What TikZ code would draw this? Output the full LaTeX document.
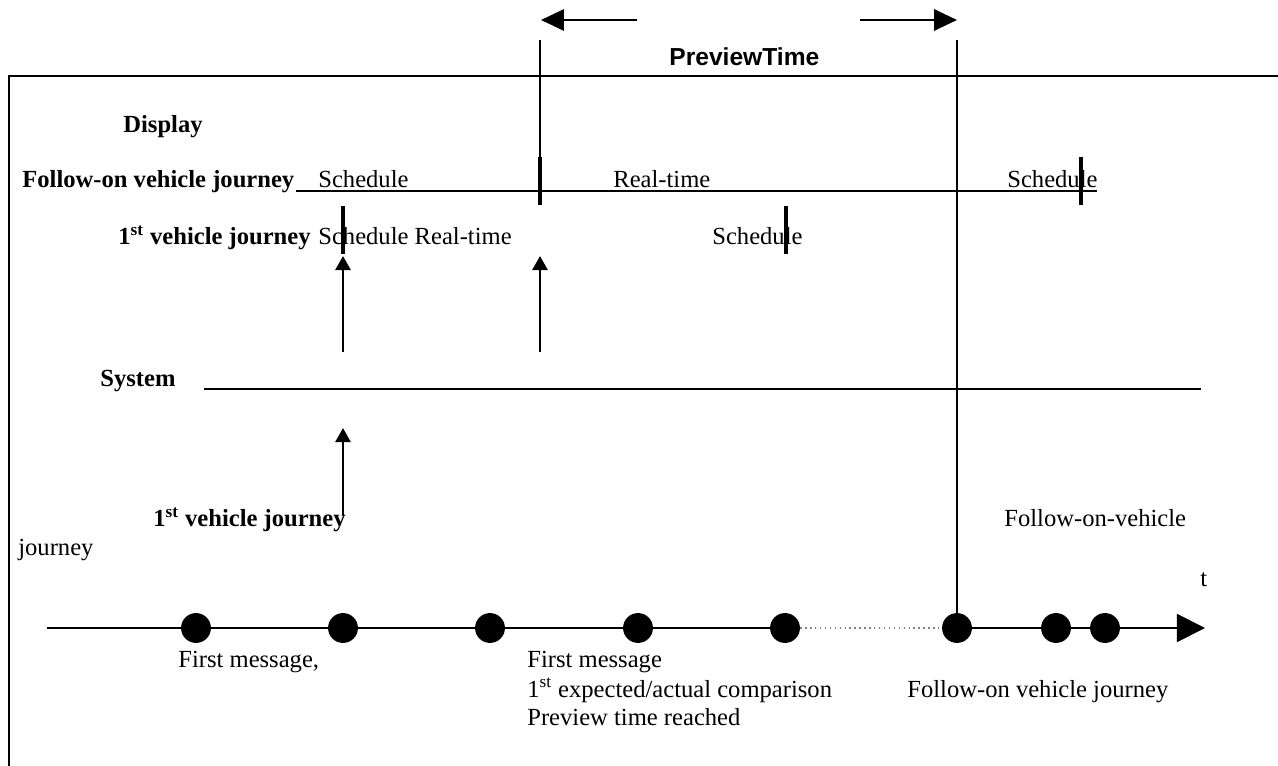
\documentclass[tikz,border=0pt]{standalone}
\usepackage{fontspec}
\setmainfont{Liberation Serif}
\newfontfamily\arialfont{Liberation Sans}
\usetikzlibrary{arrows.meta}
\begin{document}
\begin{tikzpicture}[x=0.02cm,y=-0.02cm,
  lbl/.style={anchor=base west,inner sep=0pt,font=\fontsize{14}{16}\selectfont},
  blbl/.style={lbl,font=\fontsize{14}{16}\selectfont\bfseries},
  dot/.style={circle,fill=black,inner sep=0pt,minimum width=17pt,minimum height=17pt},
  tick/.style={line width=2.8pt},
  thin/.style={line width=0.8pt},
  uparrow/.style={line width=1.7pt,-{Triangle[length=8pt,width=8.5pt]}},
  toparrow/.style={line width=1.4pt,-{Triangle[length=13pt,width=12pt]}},
  axis/.style={line width=1.1pt}]
\useasboundingbox (0,0) rectangle (1278,766);
% frame
\coordinate (fTL) at (9,76);
\coordinate (fTR) at (1278,76);
\coordinate (fBL) at (9,766);
\draw[line width=1.1pt] (fBL) -- (fTL) -- (fTR);

% PreviewTime arrows
\coordinate (la0) at (637,20);
\coordinate (la1) at (541,20);
\coordinate (ra0) at (860,20);
\coordinate (ra1) at (957,20);
\draw[toparrow] (la0) -- (la1);
\draw[toparrow] (ra0) -- (ra1);
\node[anchor=base west,inner sep=0pt,font=\arialfont\bfseries\fontsize{14}{16}\selectfont] (pt) at (669,66) {PreviewTime};

% texts
\node[blbl] (disp) at (123,133) {Display};
\node[blbl] (fovj) at (22,188) {Follow-on vehicle journey};
\node[lbl] (s1) at (318,188) {Schedule};
\node[lbl] (rt1) at (613,188) {Real-time};
\node[lbl] (s2) at (1007,188) {Schedule};
\node[blbl] (vj1) at (118,245) {1\textsuperscript{st} vehicle journey};
\node[lbl] (srt) at (318,245) {Schedule Real-time};
\node[lbl] (s3) at (712,245) {Schedule};
\node[blbl] (sys) at (100,387) {System};
\node[blbl] (vj2) at (153,527) {1\textsuperscript{st} vehicle journey};
\node[lbl] (jr) at (18,556) {journey};
\node[lbl] (fov) at (1004,527) {Follow-on-vehicle};
\node[lbl] (t) at (1200,586) {t};
\node[lbl] (m1) at (178,667) {First message,};
\node[lbl] (m2a) at (527,667) {First message};
\node[lbl] (m2b) at (527,697) {1\textsuperscript{st} expected/actual comparison};
\node[lbl] (m2c) at (527,725) {Preview time reached};
\node[lbl] (m3) at (907,697) {Follow-on vehicle journey};

% display lines
\coordinate (fl0) at (296,191);
\coordinate (fl1) at (1097,191);
\draw[line width=0.9pt] (fl0) -- (fl1);
\coordinate (sl0) at (204,389);
\coordinate (sl1) at (1201,389);
\draw[line width=0.9pt] (sl0) -- (sl1);

% ticks
\coordinate (tA0) at (540,157); \coordinate (tA1) at (540,205);
\coordinate (tB0) at (1081,157); \coordinate (tB1) at (1081,205);
\coordinate (tC0) at (343,206); \coordinate (tC1) at (343,254);
\coordinate (tD0) at (786,206); \coordinate (tD1) at (786,254);
\draw[tick] (tA0) -- (tA1);
\draw[tick] (tB0) -- (tB1);
\draw[tick] (tC0) -- (tC1);
\draw[tick] (tD0) -- (tD1);

% vertical preview lines
\coordinate (vL) at (540,40);
\draw[thin] (vL) -- (tA0);
\coordinate (vR) at (957,40);

% up arrows
\coordinate (a1s) at (343,352); \coordinate (a1e) at (343,256);
\coordinate (a2s) at (540,352); \coordinate (a2e) at (540,256);
\coordinate (a3s) at (343,515); \coordinate (a3e) at (343,428);
\draw[uparrow] (a1s) -- (a1e);
\draw[uparrow] (a2s) -- (a2e);
\draw[uparrow] (a3s) -- (a3e);

% timeline
\coordinate (ax0) at (47,628);
\coordinate (ax1) at (1205,628);
\node[dot] (d1) at (196,628) {};
\node[dot] (d2) at (343,628) {};
\node[dot] (d3) at (490,628) {};
\node[dot] (d4) at (638,628) {};
\node[dot] (d5) at (785,628) {};
\node[dot] (d6) at (957,628) {};
\node[dot] (d7) at (1056,628) {};
\node[dot] (d8) at (1105,628) {};
\draw[axis] (ax0) -- (d1) -- (d2) -- (d3) -- (d4) -- (d5);
\draw[line width=0.8pt,gray,dotted] (d5) -- (d6);
\draw[axis] (d6) -- (d7) -- (d8);
\draw[axis,-{Triangle[length=16pt,width=16pt]}] (d8) -- (ax1);
\draw[thin] (vR) -- (d6);
\end{tikzpicture}
\end{document}
